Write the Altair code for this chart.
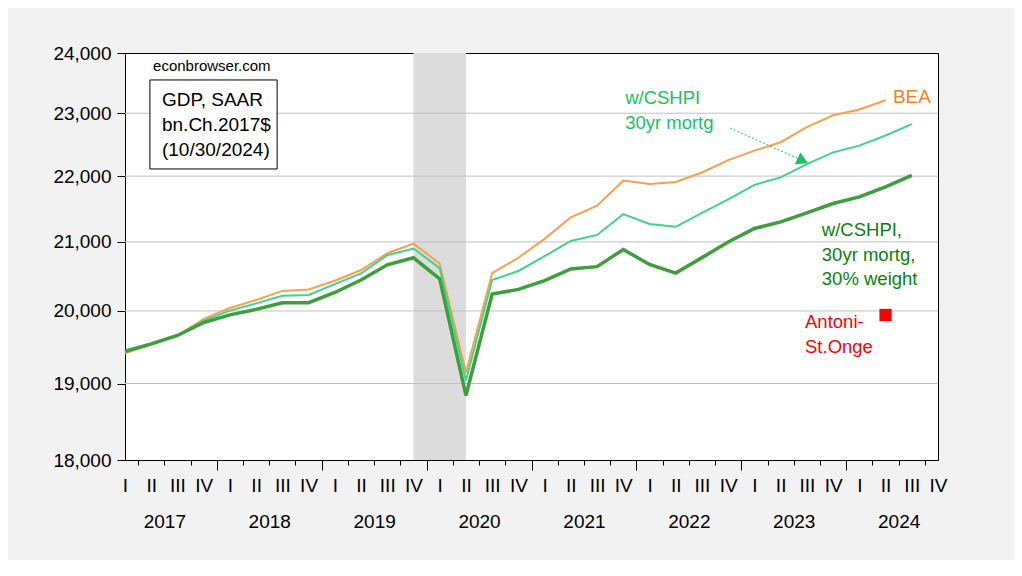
import altair as alt
import pandas as pd

# ---------------- data ----------------
quarters = [f"{y}Q{q}" for y in range(2017, 2025) for q in range(1, 5)]

bea = [19410, 19530, 19656, 19888, 20042, 20155, 20285, 20307, 20432, 20587,
       20833, 20975, 20682, 19150, 20543, 20766, 21045, 21368, 21545, 21930,
       21879, 21910, 22056, 22251, 22400, 22533, 22774, 22966, 23060, 23212]
cshpi = [19425, 19535, 19656, 19864, 20004, 20107, 20216, 20226, 20383, 20538,
         20804, 20902, 20615, 19040, 20443, 20573, 20790, 21015, 21104, 21417,
         21267, 21225, 21435, 21641, 21865, 21980, 22188, 22372, 22479, 22641, 22822]
cshpi30 = [19440, 19540, 19656, 19837, 19944, 20022, 20117, 20117, 20263, 20442,
           20663, 20766, 20457, 18840, 20241, 20307, 20432, 20602, 20636, 20888,
           20668, 20543, 20768, 21000, 21200, 21300, 21436, 21578, 21680, 21833, 22010]

antoni_q = ["2024Q2"]
antoni_v = [19943]

rec_start = ["2019Q4"]
rec_end = ["2020Q2"]

y_ticks = [18000, 19000, 20000, 21000, 22000, 23000, 24000]
grid_vals = [19000, 20000, 21000, 22000, 23000]

def qidx(q):
    return quarters.index(q)

def frame(vals):
    return pd.DataFrame({"t": list(range(len(vals))), "value": vals})

FONT = "Liberation Sans"
xscale = alt.Scale(domain=[0, 31], nice=False, zero=False)
yscale = alt.Scale(type="log", domain=[18000, 24000], nice=False)

common_x = dict(orient="bottom", title=None, grid=False, domain=False,
                labelFlush=False, labelOverlap=False, labelBound=False,
                labelFont=FONT, labelColor="black", tickColor="black")

quarter_axis = alt.Axis(values=list(range(32)),
                        labelExpr="['I','II','III','IV'][datum.value % 4]",
                        ticks=False, tickSize=0, labelPadding=16, labelFontSize=19,
                        **common_x)
minor_axis = alt.Axis(values=[i + 0.5 for i in range(31)], labels=False,
                      tickSize=5, **common_x)
major_axis = alt.Axis(values=[3.5 + 4 * k for k in range(7)], labels=False,
                      tickSize=10, **common_x)
year_axis = alt.Axis(values=[1.5 + 4 * k for k in range(8)],
                     labelExpr="floor(datum.value / 4) + 2017",
                     ticks=False, tickSize=0, labelPadding=52, labelFontSize=19,
                     **common_x)

y_axis = alt.Axis(values=y_ticks, format=",", title=None, grid=False,
                  domain=False, orient="left",
                  tickSize=8, tickColor="black", labelPadding=6,
                  labelFontSize=19, labelFont=FONT, labelColor="black",
                  labelOverlap=False, labelFlush=False, labelBound=False)

# horizontal grid lines (carry the y axis)
grid = alt.Chart(pd.DataFrame({"value": grid_vals})).mark_rule(
    color="#c0c0c0", strokeWidth=1).encode(
    y=alt.Y("value:Q", scale=yscale, axis=y_axis))

# recession shading
rec = alt.Chart(pd.DataFrame({"start": [qidx(q) for q in rec_start],
                              "end": [qidx(q) for q in rec_end]})).mark_rect(
    color="#dcdcdc", opacity=1).encode(
    x=alt.X("start:Q", scale=xscale, axis=quarter_axis),
    x2="end:Q")

def line(vals, color, width, xaxis):
    return alt.Chart(frame(vals)).mark_line(color=color, strokeWidth=width).encode(
        x=alt.X("t:Q", scale=xscale, axis=xaxis),
        y=alt.Y("value:Q", scale=yscale, axis=None))

l_bea = line(bea, "#fb9f4b", 2, minor_axis)
l_cs = line(cshpi, "#3fd38d", 2, major_axis)
l_cs30 = line(cshpi30, "#3c9f3c", 3.5, year_axis)

def texts(xs, ys, labels, color, size=18.5):
    df = pd.DataFrame({"x": xs, "y": ys, "text": labels})
    return alt.Chart(df).mark_text(align="left", baseline="middle", font=FONT,
                                   fontSize=size, color=color).encode(
        x=alt.X("x:Q", scale=xscale, axis=None),
        y=alt.Y("y:Q", scale=yscale, axis=None),
        text="text:N")

site = texts([1.07], [23782], ["econbrowser.com"], "black", 15)

box = alt.Chart(pd.DataFrame({"x": [0.95], "x2": [5.80], "y": [23547], "y2": [22111]})).mark_rect(
    fill="white", stroke="black", strokeWidth=1).encode(
    x=alt.X("x:Q", scale=xscale, axis=None), x2="x2:Q",
    y=alt.Y("y:Q", scale=yscale, axis=None), y2="y2:Q")
box_txt = texts([1.41] * 3, [23216, 22809, 22410],
                ["GDP, SAAR", "bn.Ch.2017$", "(10/30/2024)"], "black", 19)

cs_txt = texts([19.07, 19.07], [23249, 22842], ["w/CSHPI", "30yr mortg"], "#16c462", 18.5)
bea_txt = texts([29.28], [23265], ["BEA"], "#f5821f", 19)
cs30_txt = texts([26.57] * 3, [21178, 20807, 20457],
                 ["w/CSHPI,", "30yr mortg,", "30% weight"], "#0a820a", 18.5)
ant_txt = texts([25.93, 25.93], [19844, 19497], ["Antoni-", "St.Onge"], "#ff0000", 18.5)

arrow = alt.Chart(pd.DataFrame({"x": [23.07], "x2": [25.78], "y": [22761], "y2": [22252]})).mark_rule(
    color="#16c462", strokeWidth=1, strokeDash=[2, 2]).encode(
    x=alt.X("x:Q", scale=xscale, axis=None), x2="x2:Q",
    y=alt.Y("y:Q", scale=yscale, axis=None), y2="y2:Q")
head = alt.Chart(pd.DataFrame({"x": [25.78], "y": [22252]})).mark_point(
    shape="triangle", filled=True, size=170, angle=115, color="#16c462", opacity=1).encode(
    x=alt.X("x:Q", scale=xscale, axis=None),
    y=alt.Y("y:Q", scale=yscale, axis=None))

ant = alt.Chart(pd.DataFrame({"t": [qidx(q) for q in antoni_q], "value": antoni_v})).mark_square(
    size=150, color="#ff0000", opacity=1).encode(
    x=alt.X("t:Q", scale=xscale, axis=None),
    y=alt.Y("value:Q", scale=yscale, axis=None))

chart = alt.layer(
    rec, grid, l_bea, l_cs, l_cs30, site, box, box_txt, cs_txt, bea_txt, cs30_txt,
    ant_txt, arrow, head, ant
).resolve_axis(x="independent", y="independent").properties(
    width=813, height=407,
    autosize=alt.AutoSizeParams(type="none"),
    padding={"left": 117, "top": 45, "right": 76, "bottom": 100},
    background="#f2f2f2",
).configure_view(stroke="black", strokeWidth=1, fill="white")

chart.save("out.html", embed_options={"renderer": "svg", "actions": False})
